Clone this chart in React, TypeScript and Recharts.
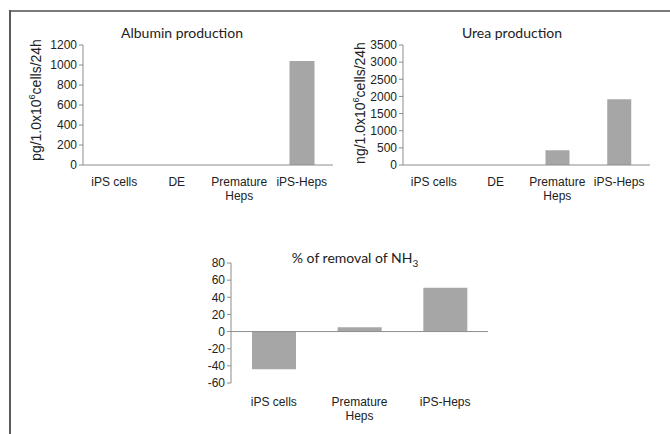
import React from "react";
import { BarChart, Bar, XAxis, YAxis, ReferenceLine } from "recharts";

const albuminCategories = ["iPS cells", "DE", "Premature\nHeps", "iPS-Heps"];
const albuminValues = [0, 0, 0, 1040];
const albuminTicks = [0, 200, 400, 600, 800, 1000, 1200];

const ureaCategories = ["iPS cells", "DE", "Premature\nHeps", "iPS-Heps"];
const ureaValues = [0, 0, 430, 1920];
const ureaTicks = [0, 500, 1000, 1500, 2000, 2500, 3000, 3500];

const nh3Categories = ["iPS cells", "Premature\nHeps", "iPS-Heps"];
const nh3Values = [-44, 5, 51];
const nh3Ticks = [-60, -40, -20, 0, 20, 40, 60, 80];

const FONT = "'Liberation Sans', Arial, sans-serif";
const TITLE_FONT = "Lato, 'Open Sans', sans-serif";
const BAR = "#a6a6a6";
const AXIS = "#8c8c8c";
const TEXT = "#222222";

const toRows = (cats: string[], vals: number[]) =>
  cats.map((c, i) => ({ name: c, value: vals[i] }));

const MultiTick = (props: any) => {
  const { x, y, payload, offset = 0 } = props;
  const lines = String(payload.value).split("\n");
  return (
    <text x={x} y={y + offset} textAnchor="middle" fill={TEXT} fontSize={12} fontFamily={FONT}>
      {lines.map((l: string, i: number) => (
        <tspan key={i} x={x} dy={i === 0 ? "0.71em" : 14}>
          {l}
        </tspan>
      ))}
    </text>
  );
};

const yTick = { fill: TEXT, fontSize: 12, fontFamily: FONT };

const Title = ({ x, y, children }: { x: number; y: number; children: React.ReactNode }) => (
  <div
    style={{
      position: "absolute",
      left: x - 150,
      top: y - 10,
      width: 300,
      height: 20,
      lineHeight: "20px",
      textAlign: "center",
      fontFamily: TITLE_FONT,
      fontSize: 14,
      color: TEXT,
      whiteSpace: "nowrap",
    }}
  >
    {children}
  </div>
);

const VLabel = ({ x, y, prefix }: { x: number; y: number; prefix: string }) => (
  <div
    style={{
      position: "absolute",
      left: x - 100,
      top: y - 9,
      width: 200,
      height: 18,
      lineHeight: "18px",
      textAlign: "center",
      fontFamily: FONT,
      fontSize: 14,
      color: TEXT,
      whiteSpace: "nowrap",
      transform: "rotate(-90deg)",
    }}
  >
    {prefix}/1.0x10<span style={{ fontSize: 9, verticalAlign: "super", lineHeight: 0 }}>6</span>cells/24h
  </div>
);

export default function App() {
  return (
    <div
      style={{
        position: "fixed",
        left: 0,
        top: 0,
        width: 670,
        height: 434,
        background: "#fff",
        overflow: "hidden",
      }}
    >
      <div style={{ position: "absolute", left: 9, top: 10, width: 661, height: 2, background: "#7a7a7a" }} />
      <div style={{ position: "absolute", left: 9, top: 10, width: 2, height: 424, background: "#5a5a5a" }} />

      <div style={{ position: "absolute", left: 0, top: 0 }}>
        <BarChart
          width={340}
          height={230}
          data={toRows(albuminCategories, albuminValues)}
          margin={{ top: 45, right: 7, bottom: 25, left: 33 }}
        >
          <XAxis
            dataKey="name"
            height={40}
            interval={0}
            tickLine={false}
            stroke={AXIS}
            tick={<MultiTick offset={4} />}
          />
          <YAxis
            width={50}
            domain={[0, 1200]}
            ticks={albuminTicks}
            interval={0}
            stroke={AXIS}
            tickSize={4}
            tick={yTick}
          />
          <Bar dataKey="value" fill={BAR} barSize={25} isAnimationActive={false} />
        </BarChart>
      </div>

      <div style={{ position: "absolute", left: 335, top: 0 }}>
        <BarChart
          width={335}
          height={230}
          data={toRows(ureaCategories, ureaValues)}
          margin={{ top: 45, right: 20, bottom: 25, left: 18 }}
        >
          <XAxis
            dataKey="name"
            height={40}
            interval={0}
            tickLine={false}
            stroke={AXIS}
            tick={<MultiTick offset={4} />}
          />
          <YAxis
            width={50}
            domain={[0, 3500]}
            ticks={ureaTicks}
            interval={0}
            stroke={AXIS}
            tickSize={4}
            tick={yTick}
          />
          <Bar dataKey="value" fill={BAR} barSize={24} isAnimationActive={false} />
        </BarChart>
      </div>

      <div style={{ position: "absolute", left: 160, top: 240 }}>
        <BarChart
          width={340}
          height={194}
          data={toRows(nh3Categories, nh3Values)}
          margin={{ top: 23, right: 12, bottom: 11, left: 31 }}
        >
          <XAxis
            dataKey="name"
            height={40}
            interval={0}
            tickLine={false}
            axisLine={false}
            tick={<MultiTick offset={6} />}
          />
          <YAxis
            width={40}
            domain={[-60, 80]}
            ticks={nh3Ticks}
            interval={0}
            stroke={AXIS}
            tickSize={4}
            tick={yTick}
          />
          <ReferenceLine y={0} stroke={AXIS} />
          <Bar dataKey="value" fill={BAR} barSize={44} isAnimationActive={false} />
        </BarChart>
      </div>

      <Title x={182} y={33}>Albumin production</Title>
      <Title x={512} y={33}>Urea production</Title>
      <Title x={355} y={258}>
        % of removal of NH<sub style={{ fontSize: 10, lineHeight: 0 }}>3</sub>
      </Title>

      <VLabel x={36} y={100} prefix="pg" />
      <VLabel x={360} y={103} prefix="ng" />
    </div>
  );
}
